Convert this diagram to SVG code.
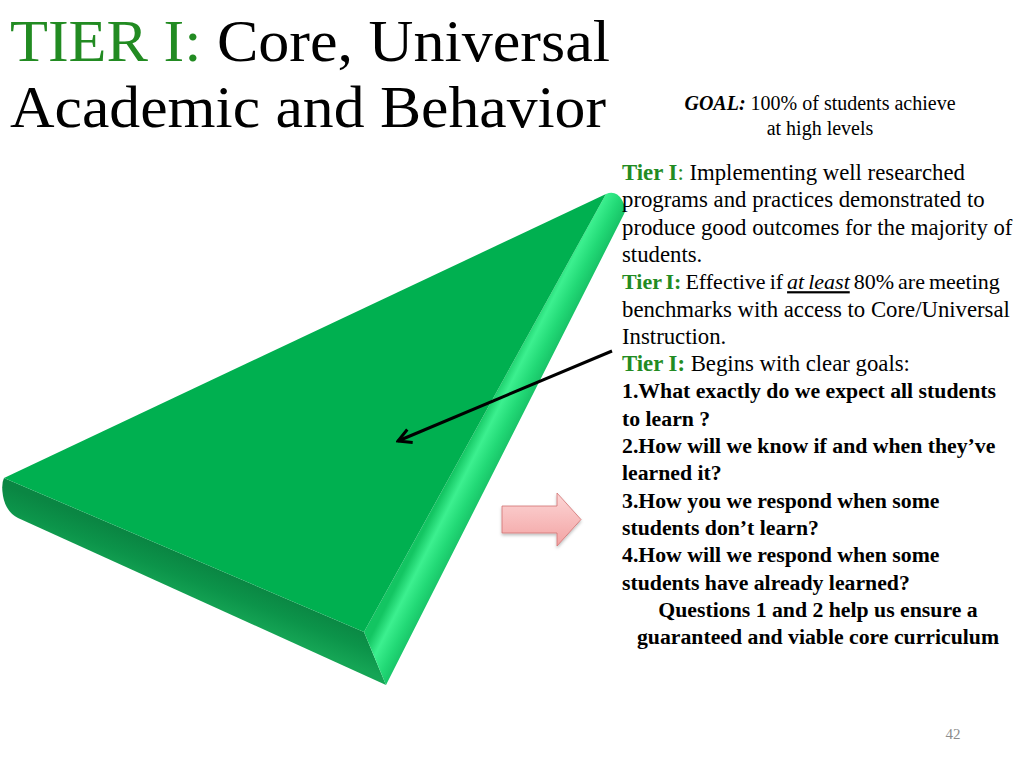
<svg xmlns="http://www.w3.org/2000/svg" width="1024" height="768" viewBox="0 0 1024 768">
<defs>
<style>
text{font-family:"Liberation Serif","Times New Roman",serif;fill:#000}
.title{font-size:59px}
.g{fill:#228b22}
.b{font-weight:bold}
.i{font-style:italic}
.body{font-size:22.75px}
.tight{font-size:22px;word-spacing:-1.5px}
.bq{font-size:21.75px;font-weight:bold}
.goal{font-size:20px}
.pg{font-size:15px;fill:#8c8c8c}
</style>
<linearGradient id="frontG" gradientUnits="userSpaceOnUse" x1="200" y1="562" x2="185" y2="600">
<stop offset="0" stop-color="#0a8643"/>
<stop offset="0.5" stop-color="#0c944a"/>
<stop offset="1" stop-color="#15a555"/>
</linearGradient>
<linearGradient id="rightG" gradientUnits="userSpaceOnUse" x1="490" y1="398" x2="526" y2="416">
<stop offset="0" stop-color="#13c562"/>
<stop offset="0.3" stop-color="#3cf08f"/>
<stop offset="0.65" stop-color="#22d976"/>
<stop offset="1" stop-color="#15bd63"/>
</linearGradient>
<linearGradient id="pinkG" x1="0" y1="0" x2="0" y2="1">
<stop offset="0" stop-color="#fcd6d6"/>
<stop offset="1" stop-color="#f3a3a3"/>
</linearGradient>
<filter id="sh" x="-20%" y="-20%" width="140%" height="150%">
<feDropShadow dx="0" dy="2" stdDeviation="1.5" flood-color="#000" flood-opacity="0.25"/>
</filter>
<marker id="ah" markerUnits="userSpaceOnUse" viewBox="-16 -9 18 18" refX="0" refY="0" markerWidth="18" markerHeight="18" orient="auto">
<path d="M-13,-7 L0,0 L-13,7" fill="none" stroke="#000" stroke-width="3" stroke-linejoin="miter"/>
</marker>
</defs>
<rect width="1024" height="768" fill="#fff"/>

<g id="title">
<text class="title" x="10" y="61" textLength="600" lengthAdjust="spacingAndGlyphs"><tspan class="g">TIER I:</tspan> Core, Universal</text>
<text class="title" x="10" y="127" textLength="596" lengthAdjust="spacingAndGlyphs">Academic and Behavior</text>
</g>

<g id="goal">
<text class="goal" x="820" y="110" text-anchor="middle"><tspan class="b i">GOAL:</tspan> 100% of students achieve</text>
<text class="goal" x="820" y="135" text-anchor="middle">at high levels</text>
</g>

<g id="tier1-shape">
<path d="M4,478 L364,632 L386,685 L18,518 Q6,512 3,496 Q1,484 4,478 Z" fill="url(#frontG)"/>
<path d="M606,194 Q616,190 622,200 Q627,208 624,214 L386,685 L364,632 Z" fill="url(#rightG)"/>
<path d="M4,478 L606,194 L364,632 Z" fill="#00b050"/>
</g>

<g id="text-block">
<text class="body" x="622" y="180"><tspan class="g b">Tier I</tspan><tspan class="g">:</tspan> Implementing  well researched</text>
<text class="body" x="622" y="207.3">programs and practices demonstrated to</text>
<text class="body" x="622" y="234.6">produce good outcomes for the majority of</text>
<text class="body" x="622" y="261.9">students.</text>
<text class="tight" x="622" y="289.2"><tspan class="g b">Tier I:</tspan> Effective if <tspan class="i" text-decoration="underline">at least</tspan> 80% are meeting</text>
<text class="body" x="622" y="316.5">benchmarks with access to Core/Universal</text>
<text class="body" x="622" y="343.8">Instruction.</text>
<text class="body" x="622" y="371.1"><tspan class="g b">Tier I:</tspan> Begins with clear goals:</text>
<text class="bq" x="622" y="398.4">1.What exactly do we expect all students</text>
<text class="bq" x="622" y="425.7">to learn ?</text>
<text class="bq" x="622" y="453">2.How will we know if and when they’ve</text>
<text class="bq" x="622" y="480.3">learned it?</text>
<text class="bq" x="622" y="507.6">3.How you we respond when some</text>
<text class="bq" x="622" y="534.9">students don’t learn?</text>
<text class="bq" x="622" y="562.2">4.How will we respond when some</text>
<text class="bq" x="622" y="589.5">students have already learned?</text>
<text class="bq" x="818" y="616.8" text-anchor="middle">Questions 1 and 2 help us ensure a</text>
<text class="bq" x="818" y="644.1" text-anchor="middle">guaranteed and viable core curriculum</text>
</g>

<g id="connectors">
<line x1="612" y1="351" x2="398" y2="441" stroke="#000" stroke-width="3" marker-end="url(#ah)"/>
</g>

<g id="block-arrow">
<path d="M502,506 L557,506 L557,493 L581,519.5 L557,546 L557,533 L502,533 Z" fill="url(#pinkG)" stroke="#d27272" stroke-width="0.8" filter="url(#sh)"/>
</g>

<g id="page-number">
<text class="pg" x="953" y="739" text-anchor="middle">42</text>
</g>
</svg>
